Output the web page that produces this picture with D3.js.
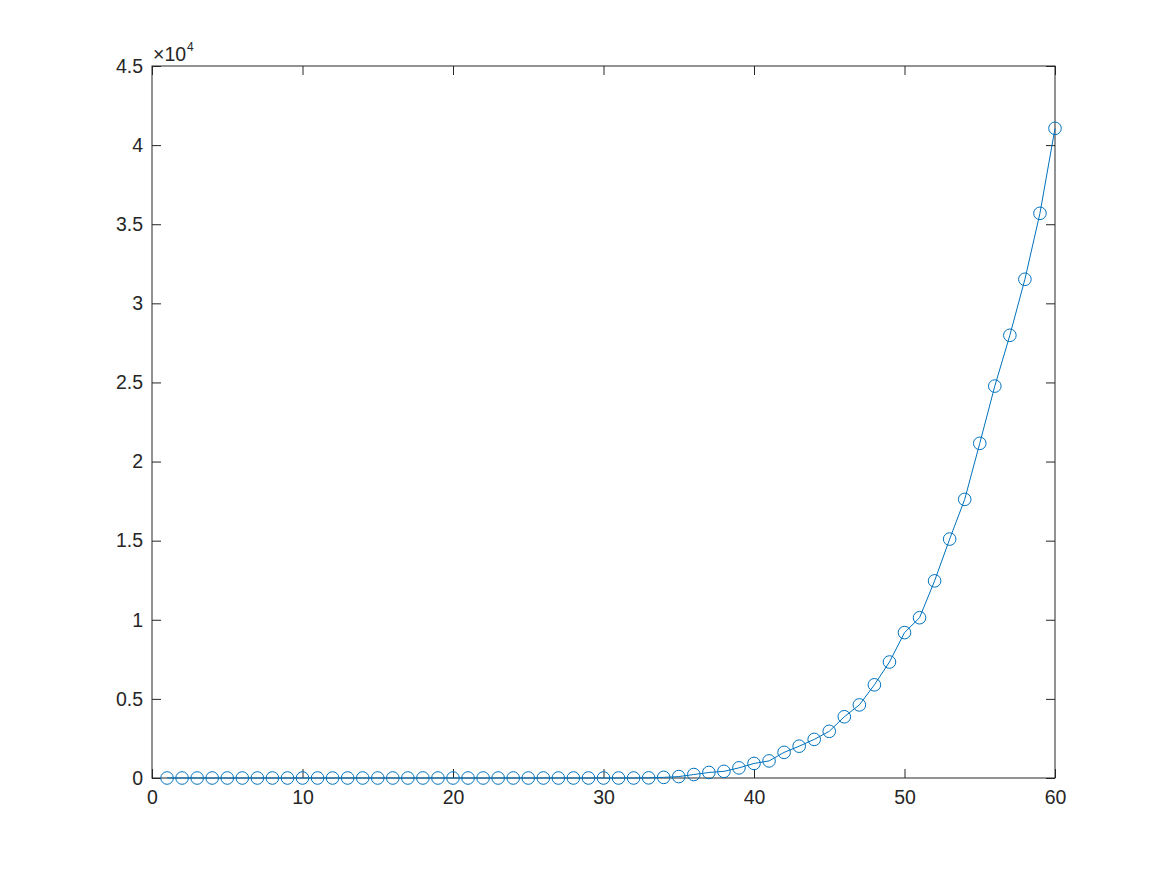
<!DOCTYPE html>
<html>
<head>
<meta charset="utf-8">
<script src="https://cdn.jsdelivr.net/npm/d3@7"></script>
<style>
  body { margin: 0; background: #fff; }
  text { font-family: "Liberation Sans", Arial, sans-serif; fill: #262626; }
</style>
</head>
<body>
<div id="chart"></div>
<script>
// data
var xs = d3.range(1, 61);
var ys = [0, 0, 0, 0, 0, 0, 0, 0, 0, 0,
          0, 0, 0, 0, 0, 0, 0, 0, 0, 0,
          0, 0, 0, 0, 0, 0, 0, 0, 0, 0,
          0, 0, 10, 40, 90, 220, 350, 420, 640, 920,
          1080, 1620, 2010, 2440, 2950, 3870, 4620, 5890, 7330, 9190,
          10130, 12460, 15100, 17610, 21150, 24770, 27980, 31520, 35690, 41060];
var xTicks = [0, 10, 20, 30, 40, 50, 60];
var yTicks = [0, 5000, 10000, 15000, 20000, 25000, 30000, 35000, 40000, 45000];

var data = xs.map(function(d, i) { return {x: d, y: ys[i]}; });

// set the dimensions and margins of the graph
var W = 1167, H = 875;
var margin = {top: 66, right: 112, bottom: 97, left: 152},
    width = W - margin.left - margin.right,
    height = H - margin.top - margin.bottom;

var svg = d3.select("#chart")
  .append("svg")
    .attr("width", W)
    .attr("height", H)
  .append("g")
    .attr("transform", "translate(" + margin.left + "," + margin.top + ")");

var x = d3.scaleLinear().domain([0, 60]).range([0, width]);
var y = d3.scaleLinear().domain([0, 45000]).range([height, 0]);

var axisColor = "#262626";
var tickLen = 9;
var fontSize = "19.5px";

// box
svg.append("rect")
  .attr("width", width)
  .attr("height", height)
  .attr("fill", "none")
  .attr("stroke", axisColor)
  .attr("stroke-width", 1);

// bottom / top axes (ticks pointing inward)
var xAxis = svg.append("g")
  .attr("transform", "translate(0," + height + ")")
  .call(d3.axisBottom(x).tickValues(xTicks).tickSizeInner(-tickLen).tickSizeOuter(0).tickPadding(12));
var xTop = svg.append("g")
  .call(d3.axisTop(x).tickValues(xTicks).tickSizeInner(-tickLen).tickSizeOuter(0).tickFormat(""));

// left / right axes
var yAxis = svg.append("g")
  .call(d3.axisLeft(y).tickValues(yTicks).tickSizeInner(-tickLen).tickSizeOuter(0).tickPadding(9)
    .tickFormat(function(d) { return d / 10000; }));
var yRight = svg.append("g")
  .attr("transform", "translate(" + width + ",0)")
  .call(d3.axisRight(y).tickValues(yTicks).tickSizeInner(-tickLen).tickSizeOuter(0).tickFormat(""));

[xAxis, xTop, yAxis, yRight].forEach(function(g) {
  g.select(".domain").remove();
  g.selectAll(".tick line").attr("stroke", axisColor);
  g.selectAll("text").style("font-size", fontSize).attr("fill", axisColor)
    .style("font-family", "'Liberation Sans', Arial, sans-serif");
});

// exponent label
var expo = svg.append("text")
  .attr("x", 1)
  .attr("y", -5.5)
  .style("font-size", fontSize);
expo.append("tspan").text("\u00d710");
expo.append("tspan").attr("dx", 1).attr("dy", -10).style("font-size", "12px").text("4");

var color = "#0072BD";

// line
svg.append("path")
  .datum(data)
  .attr("fill", "none")
  .attr("stroke", color)
  .attr("stroke-width", 1)
  .attr("d", d3.line()
    .x(function(d) { return x(d.x); })
    .y(function(d) { return y(d.y); }));

// circle markers
svg.selectAll("circle.pt")
  .data(data)
  .enter().append("circle")
    .attr("class", "pt")
    .attr("cx", function(d) { return x(d.x); })
    .attr("cy", function(d) { return y(d.y); })
    .attr("r", 6.3)
    .attr("fill", "none")
    .attr("stroke", color)
    .attr("stroke-width", 1);
</script>
</body>
</html>
